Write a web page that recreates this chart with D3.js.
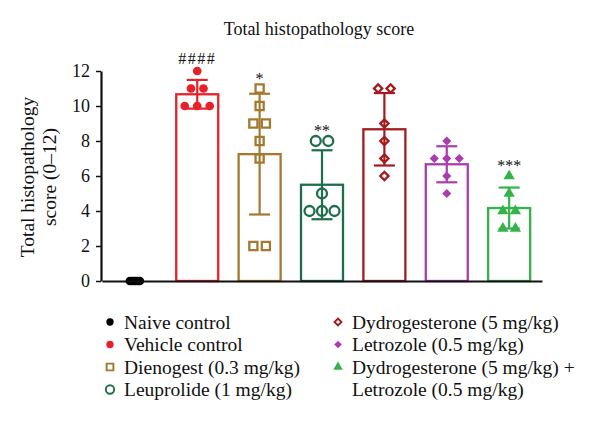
<!DOCTYPE html>
<html>
<head>
<meta charset="utf-8">
<script src="https://cdn.jsdelivr.net/npm/d3@7"></script>
<style>
  body { margin: 0; background: #fff; }
  text { font-family: "Liberation Serif", "Times New Roman", serif; fill: #111; }
</style>
</head>
<body>
<svg id="chart" width="600" height="421"></svg>
<script>
// groups in plot order
const groups = [
  "Naive control",
  "Vehicle control",
  "Dienogest (0.3 mg/kg)",
  "Leuprolide (1 mg/kg)",
  "Dydrogesterone (5 mg/kg)",
  "Letrozole (0.5 mg/kg)",
  "Dydrogesterone (5 mg/kg) + Letrozole (0.5 mg/kg)"
];
const means = [0, 10.67, 7.25, 5.5, 8.67, 6.67, 4.17];
const sds = [0, 0.82, 3.45, 1.97, 2.07, 1.03, 1.17];
const points = [
  [0, 0, 0, 0, 0, 0],
  [12, 11, 11, 10, 10, 10],
  [11, 10, 9, 9, 8, 7, 2, 2],
  [8, 8, 5, 4, 4, 4],
  [11, 11, 9, 8, 7, 6],
  [8, 7, 7, 7, 6, 5],
  [6, 5, 4, 4, 3, 3]
];
const marks = ["", "####", "*", "**", "", "", "***"];
const yTicks = [0, 2, 4, 6, 8, 10, 12];

const colors = ["#000000", "#e8202a", "#a5782f", "#1e6e4b", "#a31b1f", "#aa3cb0", "#34b34a"];
// marker: [shape, filled]
const shapes = [
  ["circle", true], ["circle", true], ["square", false], ["circle", false],
  ["diamond", false], ["diamond", true], ["triangle", true]
];

const svg = d3.select("#chart");

const x = d3.scaleBand()
  .domain(groups)
  .range([102, 542])
  .paddingInner(0.327)
  .paddingOuter(0.19);

const y = d3.scaleLinear().domain([0, 12]).range([281, 71]);

function symbolPath(shape, size) {
  const type = { circle: d3.symbolCircle, square: d3.symbolSquare, diamond: d3.symbolSquare, triangle: d3.symbolTriangle }[shape];
  return d3.symbol().type(type).size(size)();
}

function drawMarker(g, i, cx, cy, scale) {
  const [shape, filled] = shapes[i];
  const sizes = { circle: filled ? 60 : 78, square: 66, diamond: filled ? 42 : 34, triangle: 55 };
  return g.append("path")
    .attr("d", symbolPath(shape, sizes[shape] * scale))
    .attr("transform", `translate(${cx},${cy})` + (shape === "diamond" ? " rotate(45)" : ""))
    .attr("fill", filled ? colors[i] : "none")
    .attr("stroke", colors[i])
    .attr("stroke-width", filled ? 0 : 2.3 * Math.sqrt(scale));
}

// title
svg.append("text")
  .attr("x", 319).attr("y", 35)
  .attr("text-anchor", "middle")
  .attr("font-size", 18)
  .text("Total histopathology score");

// y axis label
const yl = svg.append("text")
  .attr("transform", "translate(34,177) rotate(-90)")
  .attr("text-anchor", "middle")
  .attr("font-size", 19.5);
yl.append("tspan").attr("x", 0).attr("dy", 0).text("Total histopathology");
yl.append("tspan").attr("x", 0).attr("dy", 22).text("score (0\u201312)");

// bars
const plot = svg.append("g");
plot.selectAll("rect.bar")
  .data(groups)
  .join("rect")
  .attr("class", "bar")
  .attr("x", d => x(d))
  .attr("y", (d, i) => y(means[i]))
  .attr("width", x.bandwidth())
  .attr("height", (d, i) => y(0) - y(means[i]))
  .attr("fill", "#fff")
  .attr("stroke", (d, i) => colors[i])
  .attr("stroke-width", 2.3);

// error bars
groups.forEach((g, i) => {
  if (sds[i] === 0) return;
  const cx = x(g) + x.bandwidth() / 2;
  const eg = plot.append("g").attr("stroke", colors[i]).attr("stroke-width", 2.2);
  eg.append("line").attr("x1", cx).attr("x2", cx).attr("y1", y(means[i] + sds[i])).attr("y2", y(means[i] - sds[i]));
  [means[i] + sds[i], means[i] - sds[i]].forEach(v => {
    eg.append("line").attr("x1", cx - 10.5).attr("x2", cx + 10.5).attr("y1", y(v)).attr("y2", y(v));
  });
});

// individual points, spread sideways where values repeat
groups.forEach((g, i) => {
  const cx = x(g) + x.bandwidth() / 2;
  const counts = d3.rollup(points[i], v => v.length, d => d);
  const seen = new Map();
  points[i].forEach(v => {
    const k = counts.get(v);
    const j = seen.get(v) || 0;
    seen.set(v, j + 1);
    const step = k > 3 ? 10 / (k - 1) : 12.5;
    drawMarker(plot, i, cx + (j - (k - 1) / 2) * step, y(v), 1);
  });
});

// significance marks
groups.forEach((g, i) => {
  if (!marks[i]) return;
  const cx = x(g) + x.bandwidth() / 2;
  const top = y(d3.max(points[i])) - 13;
  const hash = marks[i].startsWith("#");
  svg.append("text")
    .attr("x", cx).attr("y", top + (hash ? 5.5 : 8))
    .attr("text-anchor", "middle")
    .attr("font-size", 16)
    .attr("letter-spacing", hash ? 1.5 : 0)
    .text(marks[i]);
});

// axes
const yAxis = svg.append("g")
  .attr("transform", "translate(101,0)")
  .call(d3.axisLeft(y).tickValues(yTicks).tickSize(5).tickPadding(6).tickSizeOuter(0));
yAxis.attr("font-family", null);
yAxis.select(".domain").attr("stroke-width", 2.2).attr("stroke", "#111");
yAxis.selectAll(".tick line").attr("stroke-width", 1.5).attr("stroke", "#111");
yAxis.selectAll(".tick text")
  .attr("font-size", 18)
  .attr("fill", "#111");

svg.append("g")
  .attr("transform", `translate(0,${y(0)})`)
  .call(d3.axisBottom(x).tickValues([]).tickSizeOuter(0))
  .select(".domain").attr("stroke-width", 2.2).attr("stroke", "#111");

// legend
const legendRows = 4;
const legend = svg.append("g");
groups.forEach((g, i) => {
  const col = Math.floor(i / legendRows);
  const row = i % legendRows;
  const mx = col === 0 ? 110 : 338;
  const my = 322 + row * 22.5;
  drawMarker(legend, i, mx, my, 0.7);
  const t = legend.append("text")
    .attr("y", my + 6.5)
    .attr("font-size", 19.5);
  const parts = g.split(" + ");
  parts.forEach((p, k) => {
    t.append("tspan")
      .attr("x", mx + 14)
      .attr("dy", k === 0 ? 0 : 22.5)
      .text(k < parts.length - 1 ? p + " +" : p);
  });
});
</script>
</body>
</html>
